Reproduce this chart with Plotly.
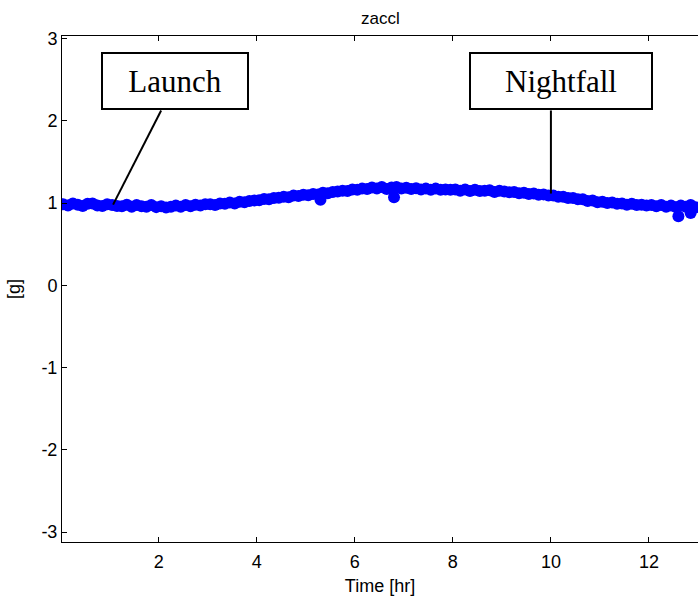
import plotly.graph_objects as go

# Time axis [hr] and vertical acceleration [g]
time_hr = [
    0.05, 0.15, 0.25, 0.35, 0.45, 0.55, 0.65, 0.75, 0.85, 0.95,
    1.05, 1.15, 1.25, 1.35, 1.45, 1.55, 1.65, 1.75, 1.85, 1.95,
    2.05, 2.15, 2.25, 2.35, 2.45, 2.55, 2.65, 2.75, 2.85, 2.95,
    3.05, 3.15, 3.25, 3.35, 3.45, 3.55, 3.65, 3.75, 3.85, 3.95,
    4.05, 4.15, 4.25, 4.35, 4.45, 4.55, 4.65, 4.75, 4.85, 4.95,
    5.05, 5.15, 5.25, 5.35, 5.45, 5.55, 5.65, 5.75, 5.85, 5.95,
    6.05, 6.15, 6.25, 6.35, 6.45, 6.55, 6.65, 6.75, 6.85, 6.95,
    7.05, 7.15, 7.25, 7.35, 7.45, 7.55, 7.65, 7.75, 7.85, 7.95,
    8.05, 8.15, 8.25, 8.35, 8.45, 8.55, 8.65, 8.75, 8.85, 8.95,
    9.05, 9.15, 9.25, 9.35, 9.45, 9.55, 9.65, 9.75, 9.85, 9.95,
    10.05, 10.15, 10.25, 10.35, 10.45, 10.55, 10.65, 10.75, 10.85, 10.95,
    11.05, 11.15, 11.25, 11.35, 11.45, 11.55, 11.65, 11.75, 11.85, 11.95,
    12.05, 12.15, 12.25, 12.35, 12.45, 12.55, 12.65, 12.75, 12.85, 12.95,
]
zaccl_g = [
    0.985, 0.970, 0.995, 0.980, 0.965, 0.990, 0.995, 0.970, 0.965, 0.985,
    0.975, 0.965, 0.960, 0.980, 0.955, 0.975, 0.960, 0.955, 0.975, 0.950,
    0.960, 0.945, 0.955, 0.970, 0.955, 0.975, 0.960, 0.980, 0.970, 0.985,
    0.985, 0.975, 0.995, 0.990, 1.005, 0.995, 1.015, 1.010, 1.025, 1.030,
    1.035, 1.050, 1.045, 1.060, 1.065, 1.075, 1.070, 1.090, 1.085, 1.100,
    1.095, 1.110, 1.105, 1.125, 1.120, 1.135, 1.140, 1.150, 1.145, 1.165,
    1.160, 1.175, 1.170, 1.190, 1.175, 1.195, 1.170, 1.190, 1.195, 1.175,
    1.185, 1.170, 1.180, 1.165, 1.175, 1.160, 1.175, 1.160, 1.165, 1.160,
    1.165, 1.150, 1.165, 1.145, 1.160, 1.145, 1.150, 1.155, 1.135, 1.150,
    1.140, 1.130, 1.135, 1.120, 1.125, 1.110, 1.115, 1.100, 1.105, 1.090,
    1.090, 1.075, 1.075, 1.060, 1.060, 1.045, 1.045, 1.025, 1.030, 1.010,
    1.015, 1.000, 1.005, 0.990, 0.995, 0.980, 0.990, 0.975, 0.980, 0.970,
    0.975, 0.960, 0.975, 0.955, 0.970, 0.950, 0.970, 0.955, 0.975, 0.950,
]
# Isolated samples away from the main trend
spike_hr = [5.30, 6.80, 12.60, 12.85]
spike_g = [1.04, 1.07, 0.84, 0.88]

x_ticks = [2, 4, 6, 8, 10, 12]
y_ticks = [-3, -2, -1, 0, 1, 2, 3]
y_tick_text = ["-3", "-2", "-1", "0", "1", "2", "3"]

# Event call-outs: label, box centre (hr, g), leader start (hr, g), leader end (hr, g), box width
events = [
    ("Launch", 2.33, 2.478, 2.05, 2.125, 1.07, 0.98, 144),
    ("Nightfall", 10.20, 2.478, 10.0, 2.125, 10.0, 1.115, 180),
]

fig = go.Figure()
fig.add_trace(go.Scatter(
    x=time_hr + spike_hr, y=zaccl_g + spike_g, mode="markers",
    marker=dict(color="#0000ff", size=12, line=dict(width=0)),
    showlegend=False, hoverinfo="skip",
))

for label, bx, by, x0, y0, x1, y1, w in events:
    fig.add_shape(type="line", x0=x0, y0=y0, x1=x1, y1=y1, xref="x", yref="y",
                  line=dict(color="black", width=2))
    fig.add_annotation(
        x=bx, y=by, xref="x", yref="y", text=label, showarrow=False,
        font=dict(family="Liberation Serif, Times New Roman, serif", size=31, color="black"),
        bgcolor="white", bordercolor="black", borderwidth=2, borderpad=0,
        width=w, height=54,
    )

axis_font = dict(family="Liberation Sans, Arial, sans-serif", size=18, color="black")
title_font = dict(family="Liberation Sans, Arial, sans-serif", size=17, color="black")

fig.update_layout(
    width=698, height=596,
    margin=dict(l=62, r=0, t=36, b=54),
    paper_bgcolor="white", plot_bgcolor="white",
    font=axis_font,
    title=dict(text="zaccl", x=0.545, xanchor="center", y=1 - 18 / 596,
               yanchor="middle", yref="container", font=title_font),
    xaxis=dict(
        range=[0.028, 13.0], tickvals=x_ticks, ticks="inside", ticklen=5,
        tickcolor="black", tickfont=axis_font, ticklabelstandoff=3,
        showline=True, linecolor="black",
        linewidth=1, mirror="ticks", showgrid=False, zeroline=False,
        title=dict(text="Time [hr]", standoff=8, font=axis_font),
    ),
    yaxis=dict(
        range=[-3.12, 3.03], tickvals=y_ticks, ticktext=y_tick_text,
        ticks="inside", ticklen=5, tickcolor="black", tickfont=axis_font,
        showline=True, linecolor="black", linewidth=1,
        showgrid=False, zeroline=False,
        title=dict(text="[g]", standoff=16, font=axis_font),
    ),
)

fig.write_html("out.html")
